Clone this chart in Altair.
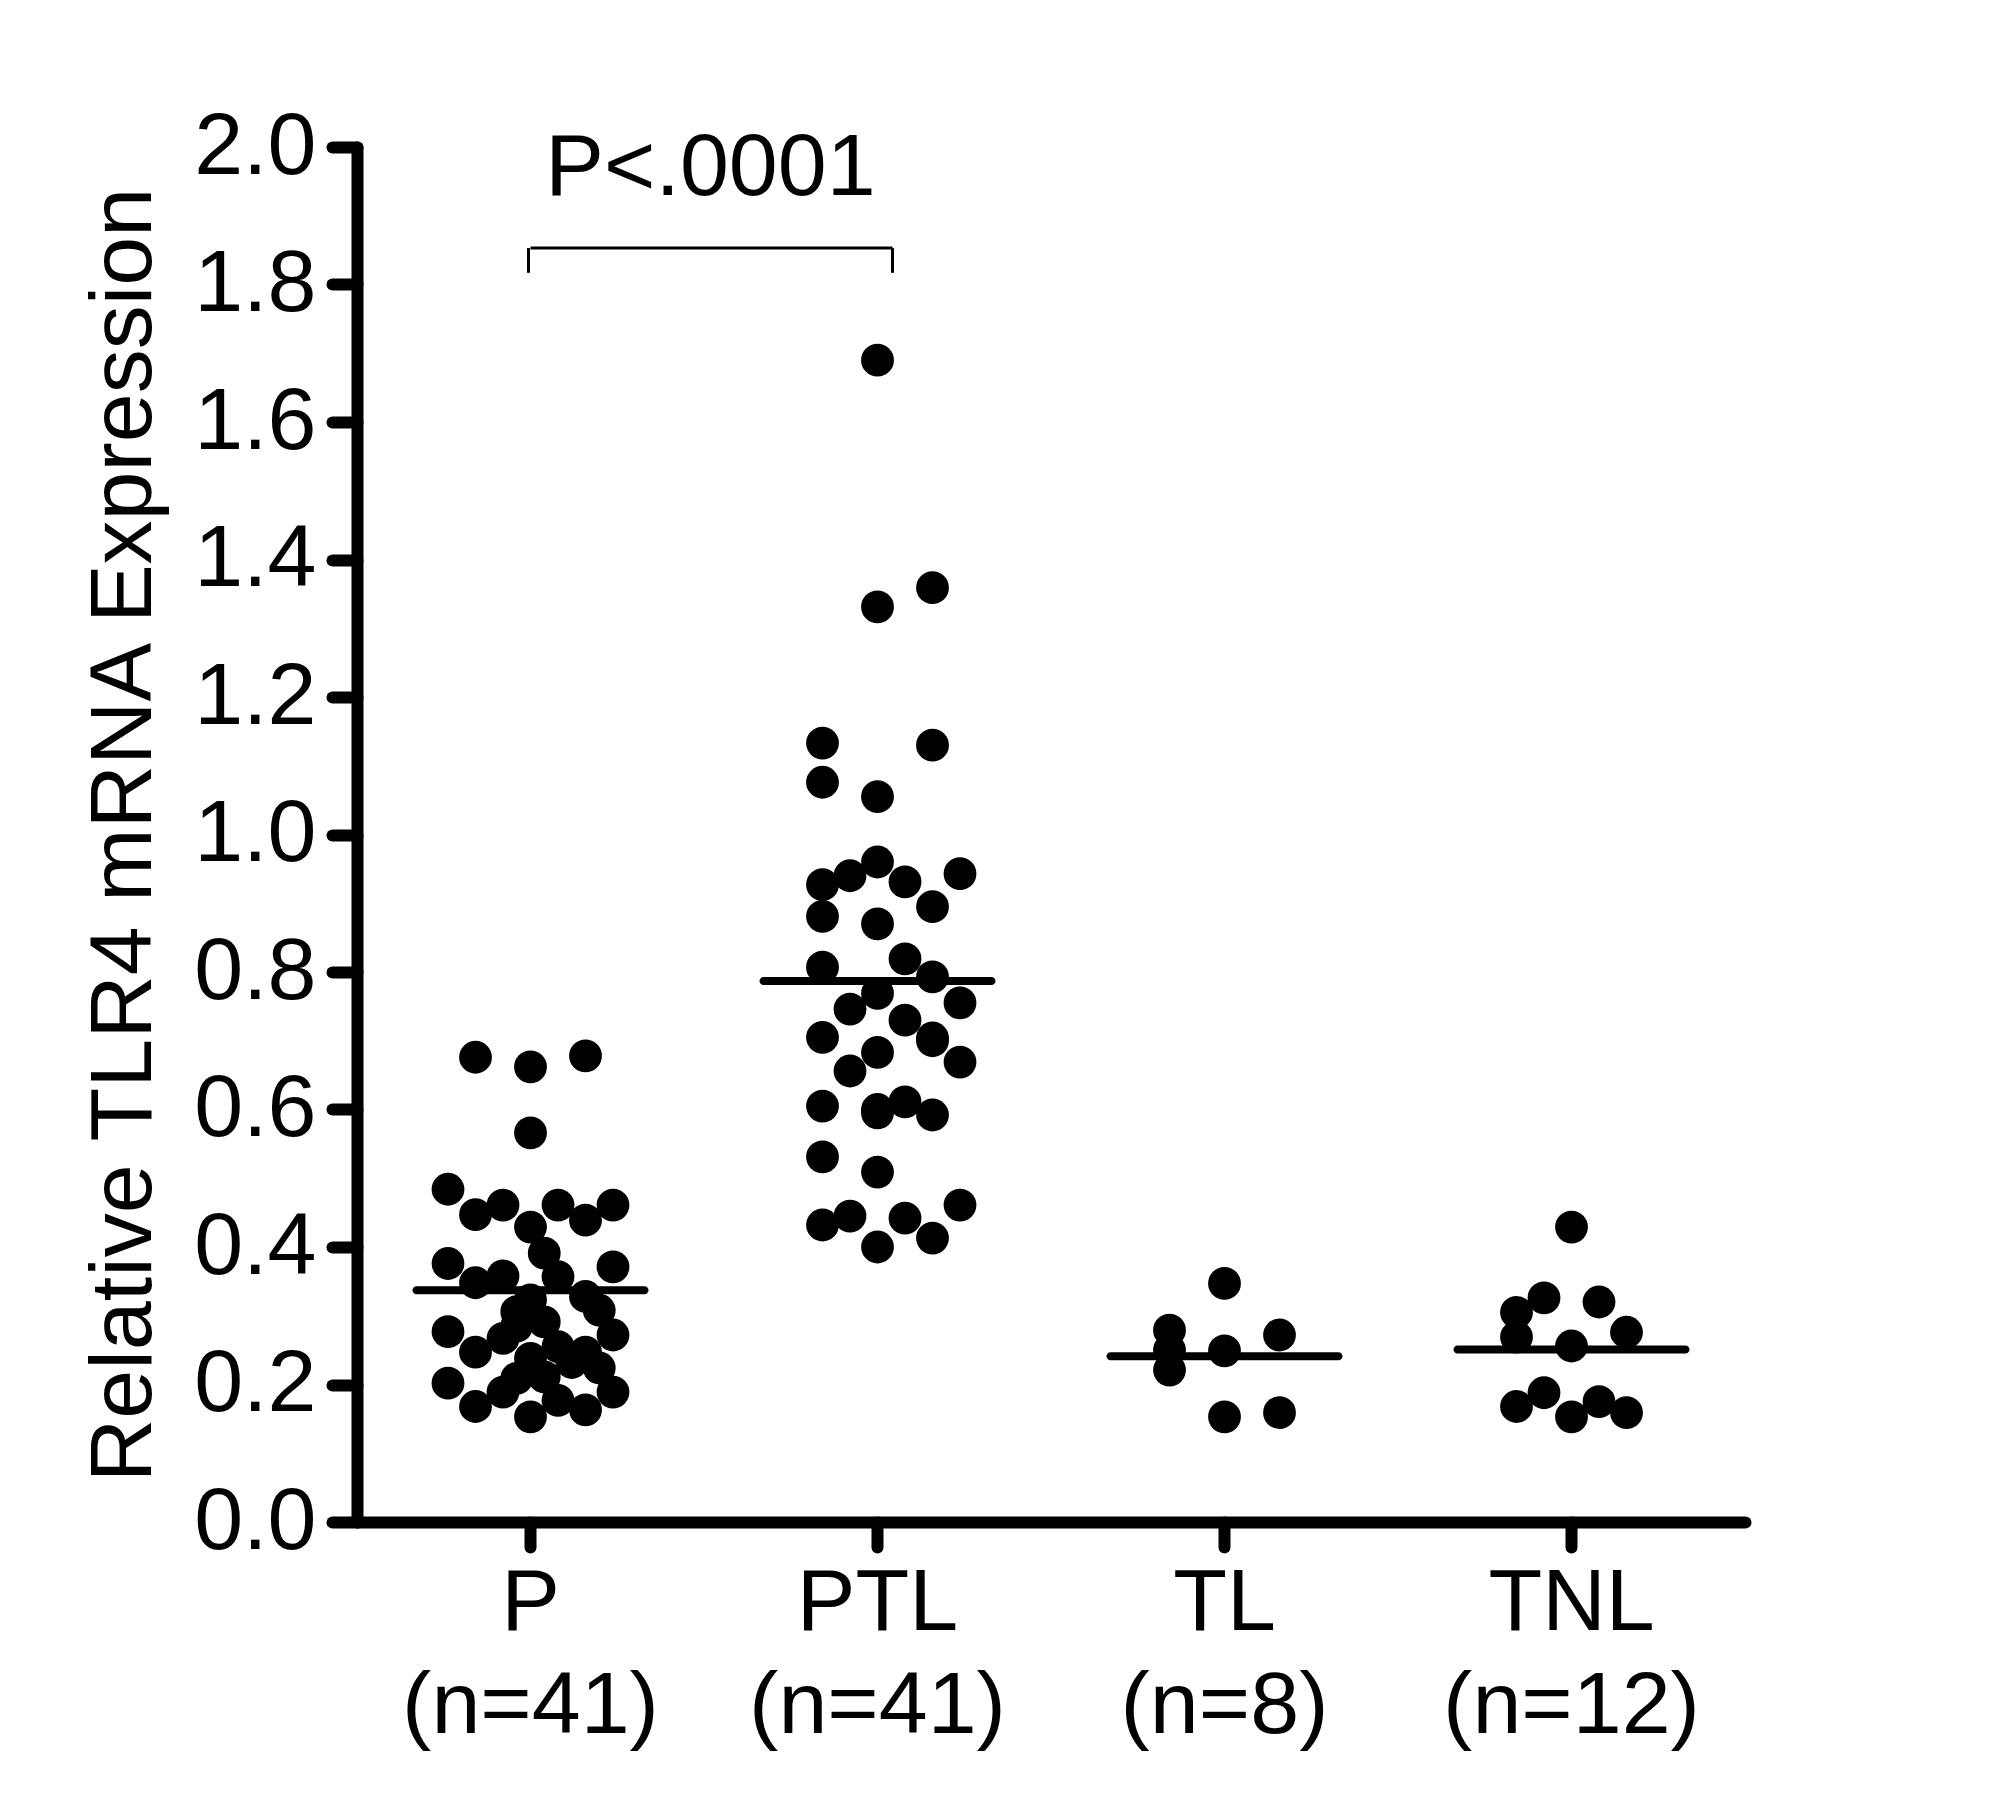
import altair as alt
import pandas as pd

FONT = "Liberation Sans, Arial, Helvetica, sans-serif"

groups = ["P", "PTL", "TL", "TNL"]
n_counts = [41, 41, 8, 12]
group_means = [0.337, 0.787, 0.241, 0.251]

# values and dot columns (column index of the scatter arrangement)
p_vals = [0.676, 0.662, 0.678, 0.566, 0.484, 0.447, 0.461, 0.429, 0.461, 0.439,
          0.461, 0.376, 0.348, 0.358, 0.391, 0.357, 0.371, 0.323, 0.306, 0.328,
          0.308, 0.277, 0.247, 0.267, 0.291, 0.255, 0.247, 0.272, 0.238, 0.202,
          0.168, 0.189, 0.209, 0.211, 0.153, 0.177, 0.163, 0.189, 0.224, 0.232,
          0.285]
p_cols = [-2, 0, 2, 0, -3, -2, -1, 0, 1, 2,
          3, -3, -2, -1, 0.5, 1, 3, 0, -0.5, 2,
          2.5, -3, -2, -1, 0.5, 1, 2, 3, 0, -3,
          -2, -1, -0.5, 0.5, 0, 1, 2, 3, 2.5, 1.5,
          -0.5]

ptl_vals = [1.690, 1.359, 1.331, 1.133, 1.130, 1.076, 1.055, 0.960, 0.940, 0.927,
            0.931, 0.943, 0.895, 0.881, 0.870, 0.807, 0.819, 0.793, 0.769, 0.746,
            0.755, 0.730, 0.705, 0.704, 0.683, 0.669, 0.656, 0.605, 0.611, 0.595,
            0.592, 0.531, 0.509, 0.461, 0.432, 0.445, 0.442, 0.413, 0.400, 0.600,
            0.700]
ptl_cols = [0, 2, 0, -2, 2, -2, 0, 0, -1, -2,
            1, 3, 2, -2, 0, -2, 1, 2, 0, -1,
            3, 1, -2, 2, 0, 3, -1, -2, 1, 0,
            2, -2, 0, 3, -2, -1, 1, 2, 0, 0,
            2]

tl_vals = [0.347, 0.279, 0.250, 0.221, 0.249, 0.272, 0.153, 0.159]
tl_cols = [0, -2, -2, -2, 0, 2, 0, 2]

tnl_vals = [0.429, 0.326, 0.305, 0.320, 0.269, 0.276, 0.256, 0.188, 0.168, 0.153,
            0.175, 0.159]
tnl_cols = [0, -1, -2, 1, -2, 2, 0, -1, -2, 0, 1, 2]

y_ticks = [0.0, 0.2, 0.4, 0.6, 0.8, 1.0, 1.2, 1.4, 1.6, 1.8, 2.0]

sig_label = "P<.0001"
sig_from, sig_to = "P", "PTL"
sig_bar_y, sig_foot_y, sig_text_y = 1.853, 1.817, 1.930

rows = []
for g, vals, cols in zip(groups, [p_vals, ptl_vals, tl_vals, tnl_vals],
                         [p_cols, ptl_cols, tl_cols, tnl_cols]):
    for v, c in zip(vals, cols):
        rows.append({"group": g, "value": v, "col": c})
dots = pd.DataFrame(rows)
means = pd.DataFrame({"group": groups, "mean": group_means})
sig = pd.DataFrame({"a": [sig_from], "b": [sig_to], "yb": [sig_bar_y],
                    "yf": [sig_foot_y], "yt": [sig_text_y], "label": [sig_label]})

PW, PH = 1388, 1375
BAND = PW / len(groups)
COLPX = 27.5
half = BAND / 2 / COLPX

label_expr = " : ".join(
    f"datum.label == '{g}' ? ['{g}', '(n={n})']" for g, n in zip(groups, n_counts)
) + " : datum.label"

xscale = alt.Scale(domain=groups, paddingInner=0, paddingOuter=0)
yscale = alt.Scale(domain=[0, 2], nice=False, zero=True)

x_enc = alt.X(
    "group:N", scale=xscale, sort=groups, title=None,
    axis=alt.Axis(labelExpr=label_expr, labelAngle=0, labelFontSize=88,
                  labelFont=FONT, labelColor="black", labelLineHeight=103,
                  labelLimit=0, labelPadding=12, tickSize=25, tickWidth=12,
                  tickColor="black", tickCap="round", domainWidth=12,
                  domainColor="black", domainCap="round", grid=False),
)
y_enc = alt.Y(
    "value:Q", scale=yscale, title="Relative TLR4 mRNA Expression",
    axis=alt.Axis(values=y_ticks, format=".1f", labelFontSize=88, labelFont=FONT,
                  labelColor="black", labelPadding=16, labelLimit=0, tickSize=25,
                  tickWidth=12, tickColor="black", tickCap="round", domainWidth=12,
                  domainColor="black", domainCap="round", grid=False,
                  titleFontSize=88, titleFont=FONT, titleFontWeight="normal",
                  titleColor="black", titlePadding=25, titleLimit=0),
)

points = alt.Chart(dots).mark_circle(size=1075, opacity=1, color="black").encode(
    x=x_enc,
    y=y_enc,
    xOffset=alt.XOffset("col:Q", scale=alt.Scale(domain=[-half, half], range=[0, BAND])),
)

mean_ticks = alt.Chart(means).mark_tick(
    color="black", thickness=8, size=236, cornerRadius=4, opacity=1
).encode(
    x=alt.X("group:N", scale=xscale, sort=groups),
    y=alt.Y("mean:Q", scale=yscale),
)

bar = alt.Chart(sig).mark_rule(color="black", strokeWidth=3, x2Offset=15).encode(
    x=alt.X("a:N", scale=xscale), x2="b:N", y=alt.Y("yb:Q", scale=yscale)
)
foot_left = alt.Chart(sig).mark_rule(color="black", strokeWidth=3, xOffset=-2).encode(
    x=alt.X("a:N", scale=xscale), y=alt.Y("yf:Q", scale=yscale), y2="yb:Q"
)
foot_right = alt.Chart(sig).mark_rule(color="black", strokeWidth=3, xOffset=15).encode(
    x=alt.X("b:N", scale=xscale), y=alt.Y("yf:Q", scale=yscale), y2="yb:Q"
)
sig_text = alt.Chart(sig).mark_text(
    font=FONT, fontSize=88, color="black", baseline="alphabetic", align="center", dx=180
).encode(
    x=alt.X("a:N", scale=xscale), y=alt.Y("yt:Q", scale=yscale), text="label:N"
)

chart = alt.layer(points, mean_ticks, bar, foot_left, foot_right, sig_text).properties(
    width=PW, height=PH,
    autosize=alt.AutoSizeParams(type="none"),
    padding={"left": 349, "top": 139, "right": 250, "bottom": 280},
    view=alt.ViewBackground(strokeOpacity=0, strokeWidth=0, fillOpacity=0),
).configure_view(strokeOpacity=0, strokeWidth=0).configure(background="white")

chart.save("out.html", embed_options={"renderer": "svg", "actions": False})
